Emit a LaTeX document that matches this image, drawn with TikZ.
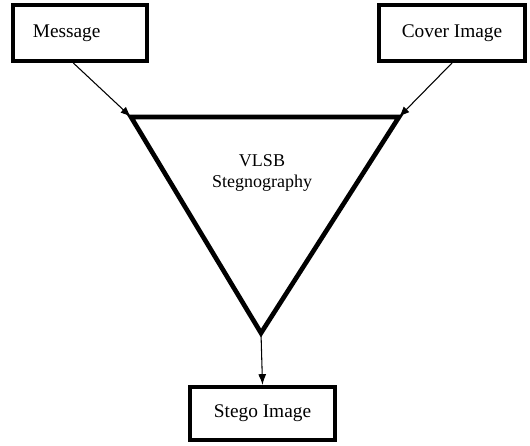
\documentclass[tikz,border=0pt]{standalone}
\usepackage{fontspec}
\setmainfont{Liberation Serif}
\usetikzlibrary{arrows.meta}

\begin{document}
\begin{tikzpicture}[x=0.75pt, y=-0.75pt, >={Latex[length=8pt, width=6pt]},
  font=\fontsize{14.5}{16}\selectfont,
  box/.style={draw, line width=3pt, minimum height=42pt, inner sep=0pt},
  link/.style={->, line width=0.8pt}]
  \useasboundingbox (0,0) rectangle (530,445);
  % input and output boxes
  \node[box, minimum width=100pt] (msg) at (80,33) {Message\kern20pt};
  \node[box, minimum width=109pt] (cover) at (452,33) {Cover Image};
  \node[box, minimum width=109pt, minimum height=40pt] (stego) at (262.5,413.5) {Stego Image};
  % the triangle
  \coordinate (tl) at (131,117);
  \coordinate (tr) at (399,117);
  \coordinate (bot) at (261,333);
  \draw[line width=3.5pt, line join=miter] (tl) -- (tr) -- (bot) -- cycle;
  \node[align=center, font=\fontsize{13.5}{15.75}\selectfont] (lbl) at (262,173) {VLSB\\Stegnography};
  % connectors
  \draw[link] ([xshift=-5pt]msg.south) -- (tl);
  \draw[link] (cover.south) -- (tr);
  \draw[link] (bot) -- (stego.north);
\end{tikzpicture}
\end{document}
